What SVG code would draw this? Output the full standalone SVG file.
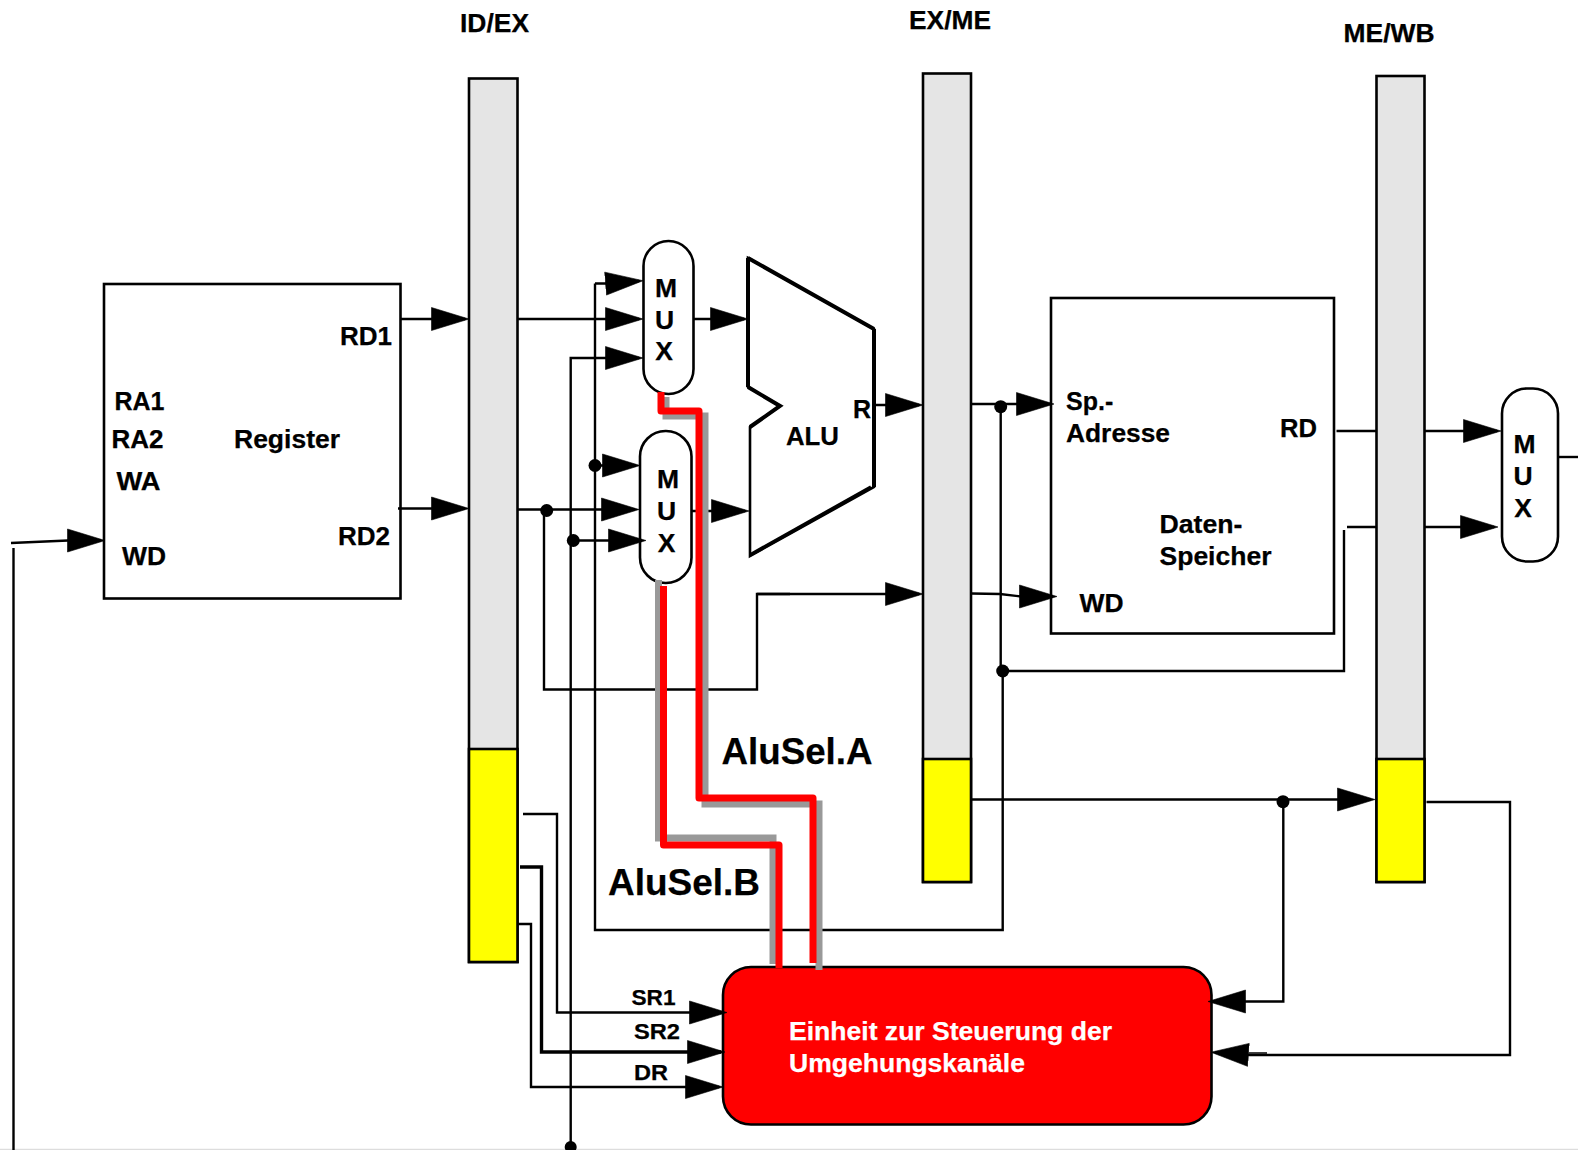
<svg xmlns="http://www.w3.org/2000/svg" width="1578" height="1150" viewBox="0 0 1578 1150">
<style>
text{font-family:"Liberation Sans",Arial,sans-serif;font-weight:bold;fill:#000;font-size:25px;stroke:#000;stroke-width:.25}
.m{text-anchor:middle;font-size:26.500px}
.node{fill:#fff;stroke:#000;stroke-width:2.6}
.bar{fill:#e5e5e5;stroke:#000;stroke-width:2.6}
.yel{fill:#ff0;stroke:#000;stroke-width:2.6}
.c{fill:none;stroke:#000;stroke-width:2.4}
.a{marker-end:url(#ah)}
.t{stroke-width:3.4}
.g{fill:none;stroke:#999;stroke-width:7}
.r{fill:none;stroke:#f00;stroke-width:7;stroke-linejoin:round}
.d{fill:#000}
.big{font-size:37px}
.w{fill:#fff;stroke:#fff}
</style>
<defs>
<marker id="ah" markerUnits="userSpaceOnUse" markerWidth="42" markerHeight="28" refX="34" refY="13" orient="auto">
<path d="M0.500 1.500L38 13L0.500 24.500Z" fill="#000" stroke="#000" stroke-width=".6"/>
</marker>
</defs>
<rect width="1578" height="1150" fill="#fff"/>
<path d="M0 1149.500H1578" stroke="#ddd" stroke-width="1.500"/>
<g id="register"><rect class="node" x="104" y="284" width="296.500" height="314.500"/>
<text x="114.500" y="410" textLength="50" lengthAdjust="spacingAndGlyphs">RA1</text>
<text x="111.500" y="447.500" textLength="52" lengthAdjust="spacingAndGlyphs">RA2</text>
<text x="116.500" y="489.500" textLength="44" lengthAdjust="spacingAndGlyphs">WA</text>
<text x="122" y="564.500" textLength="44" lengthAdjust="spacingAndGlyphs">WD</text>
<text x="234" y="447.500" textLength="106" lengthAdjust="spacingAndGlyphs">Register</text>
<text x="340" y="345" textLength="52" lengthAdjust="spacingAndGlyphs">RD1</text>
<text x="338" y="545" textLength="52" lengthAdjust="spacingAndGlyphs">RD2</text></g>
<g id="id-ex"><rect class="bar" x="469" y="78.500" width="48.500" height="883.500"/><rect class="yel" x="469" y="749" width="48.500" height="213"/>
<text x="460" y="32" textLength="69" lengthAdjust="spacingAndGlyphs">ID/EX</text></g>
<g id="ex-me"><rect class="bar" x="923" y="73.500" width="48" height="808.500"/><rect class="yel" x="923" y="759" width="48" height="123"/>
<text x="909" y="29" textLength="82" lengthAdjust="spacingAndGlyphs">EX/ME</text></g>
<g id="me-wb"><rect class="bar" x="1376.500" y="76" width="48" height="806"/><rect class="yel" x="1376.500" y="759" width="48" height="123"/>
<text x="1343.500" y="42" textLength="91" lengthAdjust="spacingAndGlyphs">ME/WB</text></g>
<g id="mux-a"><rect class="node" x="643.500" y="241" width="50" height="153" rx="25" ry="25"/>
<text class="m" x="666" y="296.500">M</text><text class="m" x="664.500" y="328.500">U</text><text class="m" x="664" y="360">X</text></g>
<g id="mux-b"><rect class="node" x="640" y="431" width="51.500" height="152" rx="25.500" ry="25.500"/>
<text class="m" x="668" y="488">M</text><text class="m" x="666.500" y="520">U</text><text class="m" x="666.500" y="552">X</text></g>
<g id="mux-c"><rect class="node" x="1502" y="388.500" width="56" height="173" rx="25" ry="25"/>
<text class="m" x="1524.500" y="453">M</text><text class="m" x="1523" y="485">U</text><text class="m" x="1523" y="516.500">X</text></g>
<g id="alu"><path class="node" d="M748 258L874 329V487L750 556V427L780 406L748 387Z"/>
<path class="c" style="stroke-width:4" d="M748 258V387M874 329V487M748 258L874 329M748 387L780 406L750 427"/>
<path class="c" style="stroke-width:3.500" d="M871 487L750 555"/>
<text x="853" y="417.500">R</text><text x="786" y="444.500" textLength="53" lengthAdjust="spacingAndGlyphs">ALU</text></g>
<g id="speicher"><rect class="node" x="1051" y="298" width="283" height="335.500"/>
<text x="1066" y="410">Sp.-</text><text x="1066" y="442" textLength="104" lengthAdjust="spacingAndGlyphs">Adresse</text>
<text x="1159.500" y="533" textLength="83" lengthAdjust="spacingAndGlyphs">Daten-</text><text x="1159.500" y="565" textLength="112" lengthAdjust="spacingAndGlyphs">Speicher</text>
<text x="1079.500" y="612" textLength="44" lengthAdjust="spacingAndGlyphs">WD</text>
<text x="1280" y="436.500" textLength="37" lengthAdjust="spacingAndGlyphs">RD</text></g>
<g id="steuerung"><rect x="723" y="967" width="488.500" height="157.500" rx="28" ry="28" fill="#f00" stroke="#000" stroke-width="2.600"/>
<text class="w" x="789" y="1039.500" textLength="323" lengthAdjust="spacingAndGlyphs">Einheit zur Steuerung der</text>
<text class="w" x="789" y="1072" textLength="236" lengthAdjust="spacingAndGlyphs">Umgehungskanäle</text></g>
<g id="connectors">
<path class="c a" d="M11 543L68 540.500L101 540.500"/>
<path class="c" d="M13.500 548V1150"/>
<path class="c a" d="M400 319H465"/>
<path class="c a" d="M398 508.500H465"/>
<path class="c a" d="M517 319H639"/>
<path class="c a" d="M517 509.500H635"/>
<path class="c" d="M544 510V689.500H757V594H790"/>
<path class="c a" d="M757 594H919"/>
<path class="c" d="M595 283.500V930H1002.700V671M1000.700 671V404"/>
<path class="c a" d="M595 283.500H607L639 281"/>
<path class="c a" d="M595 465.500H636"/>
<path class="c a" d="M570.700 1147V358H639"/>
<path class="c a" d="M573 540.500H642"/>
<path class="c a" d="M693.500 319H744"/>
<path class="c a" d="M691.500 511H745"/>
<path class="c a" d="M874 405H919"/>
<path class="c a" d="M971 404H1050"/>
<path class="c a" d="M971.500 593.500L1000 594L1021 596.500H1053"/>
<path class="c" d="M1002.700 671H1344V530M1347 527H1376.500"/>
<path class="c" d="M1336.500 431H1376.500"/>
<path class="c a" d="M1425 431H1497"/>
<path class="c a" d="M1425 527H1494"/>
<path class="c" d="M1559 457H1578"/>
<path class="c a" d="M971 799.500H1371"/>
<path class="c a" d="M1283.300 801.500V1001.500H1212"/>
<path class="c a" d="M1426.500 802H1510V1055H1250L1215 1052.500"/>
<path class="c" style="stroke-width:1.500" d="M1249 1053H1267"/>
<path class="c a" d="M523 814H557V1012.500H723"/>
<path class="c t a" d="M520 867H541.500V1052H721"/>
<path class="c a" d="M518 924H531V1087H719"/>
<circle class="d" cx="546.700" cy="510.500" r="6.500"/>
<circle class="d" cx="595" cy="465.500" r="6.500"/>
<circle class="d" cx="573.300" cy="540.500" r="6.500"/>
<circle class="d" cx="1000.700" cy="406.700" r="6.500"/>
<circle class="d" cx="1002.700" cy="671" r="6.500"/>
<circle class="d" cx="1283" cy="801.700" r="6.500"/>
<circle class="d" cx="570.700" cy="1147" r="6"/>
</g>
<g id="control-lines">
<path class="g" d="M666 397V416H705V804H819V970"/>
<path class="g" d="M658.500 580V838H773V964"/>
<path class="r" d="M661 392V411H699V798H813V963"/>
<path class="r" d="M663.500 586V845H779V968"/>
</g>
<g id="labels">
<text class="big" x="721.500" y="764" textLength="151" lengthAdjust="spacingAndGlyphs">AluSel.A</text>
<text class="big" x="608" y="895" textLength="152" lengthAdjust="spacingAndGlyphs">AluSel.B</text>
<text style="font-size:22px" x="631.500" y="1005" textLength="44" lengthAdjust="spacingAndGlyphs">SR1</text>
<text style="font-size:22px" x="634" y="1039" textLength="46" lengthAdjust="spacingAndGlyphs">SR2</text>
<text style="font-size:22px" x="634" y="1079.500" textLength="34" lengthAdjust="spacingAndGlyphs">DR</text>
</g>
</svg>
